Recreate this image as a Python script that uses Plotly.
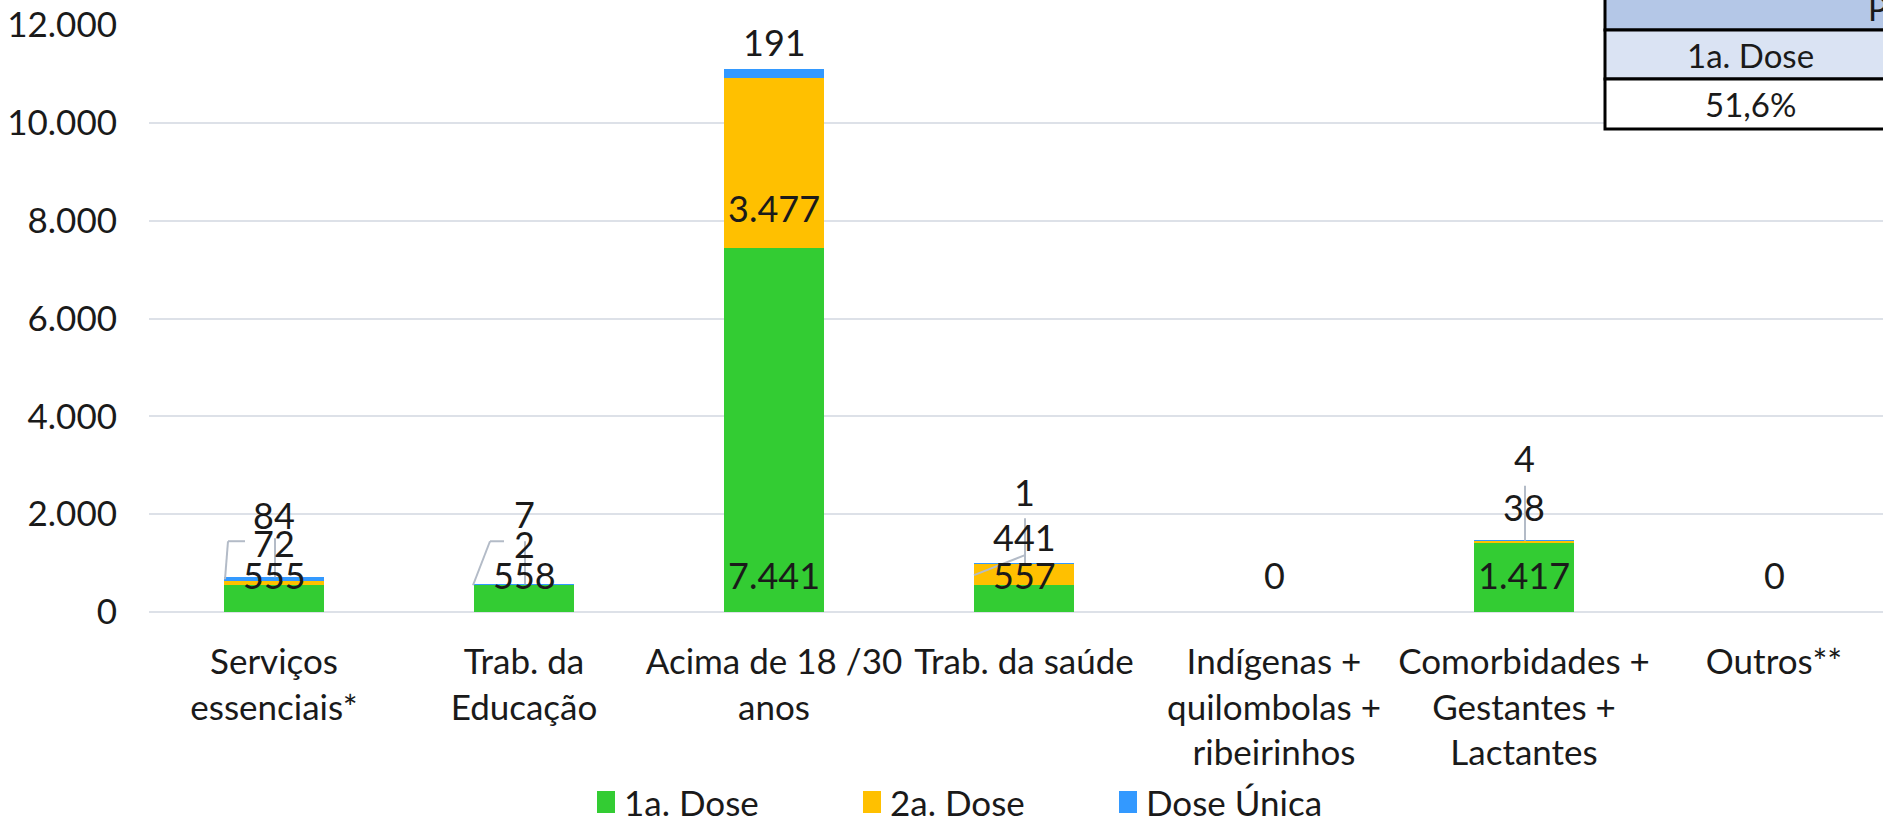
import plotly.graph_objects as go

# Categories and vaccination counts per dose
categorias = [
    "Serviços<br>essenciais*",
    "Trab. da<br>Educação",
    "Acima de 18 /30<br>anos",
    "Trab. da saúde",
    "Indígenas +<br>quilombolas +<br>ribeirinhos",
    "Comorbidades +<br>Gestantes +<br>Lactantes",
    "Outros**",
]
dose_1 = [555, 558, 7441, 557, 0, 1417, 0]
dose_2 = [72, 2, 3477, 441, 0, 38, 0]
dose_unica = [84, 7, 191, 1, 0, 4, 0]
nomes = ["1a. Dose", "2a. Dose", "Dose Única"]
y_ticks = [0, 2000, 4000, 6000, 8000, 10000, 12000]

# Summary table in the corner
tabela_titulo = "Percentual de vacinados"
tabela_coluna = "1a. Dose"
tabela_valor = "51,6%"

# Styling
cores = ["#33CC33", "#FFC000", "#3399FF"]
FONT = "Lato"
FS_LABEL = 36
FS_TICK = 35
FS_CAT = 35
FS_LEG = 35
FS_TAB = 33
TXT = "#1a1a1a"
GRID = "#DDE1E8"
LEADER = "#B3BBC7"

W, H = 1883, 826
ML, MT, MB = 149, 25, 214
PLOT_W = W - ML
PLOT_H = H - MT - MB
BAND = 250

# Label offsets (pixels above the base of each segment); None hides the label
desloc = [
    [37, 37, 37, 37, 37, 37, 37],
    [42, 41, 40, 48, None, 36, None],
    [66, 71, 36, 71, None, 83, None],
]


def fmt(v):
    return f"{v:,}".replace(",", ".")


def px(xp):
    return (xp - ML) / PLOT_W


def py(yp):
    return (MT + PLOT_H - yp) / PLOT_H


fig = go.Figure()
series = [dose_1, dose_2, dose_unica]
for nome, vals, cor in zip(nomes, series, cores):
    fig.add_trace(go.Bar(
        x=categorias, y=vals, name=nome,
        marker=dict(color=cor, line=dict(width=0)),
        hoverinfo="skip", showlegend=False,
    ))

# Data labels anchored on the base of each stacked segment
base = [0] * len(categorias)
for s, vals in enumerate(series):
    for i, v in enumerate(vals):
        off = desloc[s][i]
        if off is not None:
            fig.add_annotation(
                x=categorias[i], y=base[i], text=fmt(v),
                showarrow=False, yanchor="middle", xanchor="center",
                yshift=off, font=dict(family=FONT, size=FS_LABEL, color=TXT),
            )
        base[i] += v
totais = base[:]

# Leader lines from lifted labels down to the top of their stacks
lideres = [
    (0, [(1, 39, 1, 0), (-29, 36, -46, 36), (-46, 36, -49, -2)]),
    (1, [(1, 43, 1, 0), (-20, 43, -34, 43), (-34, 43, -51, -1)]),
    (3, [(1, 45, 1, 0), (1, 8, -50, -12)]),
    (5, [(1, 55, 1, 0)]),
]
for idx, segs in lideres:
    for x0, y0, x1, y1 in segs:
        fig.add_shape(
            type="line", xref="x", yref="y",
            xsizemode="pixel", ysizemode="pixel",
            xanchor=idx, yanchor=totais[idx],
            x0=x0, y0=y0, x1=x1, y1=y1,
            line=dict(color=LEADER, width=2), layer="above",
        )

# Legend: colour swatch followed by the series name
leg_x = [597, 863, 1119]
LEG_Y = 802
for nome, cor, x0 in zip(nomes, cores, leg_x):
    fig.add_shape(type="rect", xref="paper", yref="paper",
                  x0=px(x0), x1=px(x0 + 18), y0=py(LEG_Y + 11),
                  y1=py(LEG_Y - 11), fillcolor=cor, line=dict(width=0))
    fig.add_annotation(xref="paper", yref="paper", x=px(x0 + 25),
                       y=py(LEG_Y), text=nome, showarrow=False,
                       xanchor="left", yanchor="middle",
                       font=dict(family=FONT, size=FS_LEG, color=TXT))

# Corner table drawn with shapes in paper coordinates
T_L, T_R = 1605, 1900
linhas = [(-30, 30, "#B4C7E7"), (30, 79, "#DAE3F3"), (79, 129, "#FFFFFF")]
for y0, y1, cor in linhas:
    fig.add_shape(type="rect", xref="paper", yref="paper",
                  x0=px(T_L), x1=px(T_R), y0=py(y1), y1=py(y0),
                  fillcolor=cor, line=dict(color="black", width=3),
                  layer="above")
for texto, xc, yc, anc in [(tabela_titulo, 1866, 8, "left"),
                           (tabela_coluna, 1750, 55, "center"),
                           (tabela_valor, 1750, 104, "center")]:
    fig.add_annotation(xref="paper", yref="paper", x=px(xc), y=py(yc),
                       text=texto, showarrow=False, xanchor=anc,
                       yanchor="middle",
                       font=dict(family=FONT, size=FS_TAB, color=TXT))

fig.update_layout(
    width=W, height=H, autosize=False,
    margin=dict(l=ML, r=0, t=MT, b=MB, pad=0),
    barmode="stack", bargap=0.6,
    plot_bgcolor="white", paper_bgcolor="white",
    separators=",.",
    font=dict(family=FONT, size=FS_TICK, color=TXT),
    showlegend=False,
)
fig.update_xaxes(
    type="category", range=[-0.5, -0.5 + PLOT_W / BAND],
    showgrid=False, showline=False, ticks="", automargin=False,
    ticklabelstandoff=26,
    tickfont=dict(family=FONT, size=FS_CAT, color=TXT),
)
fig.update_yaxes(
    range=[0, 12000], tickvals=y_ticks, tickformat=",d",
    showgrid=True, gridcolor=GRID, gridwidth=2,
    zeroline=True, zerolinecolor=GRID, zerolinewidth=2,
    showline=False, ticks="", ticklabelstandoff=31, automargin=False,
    tickfont=dict(family=FONT, size=FS_TICK, color=TXT),
)

fig.write_html("out.html")
